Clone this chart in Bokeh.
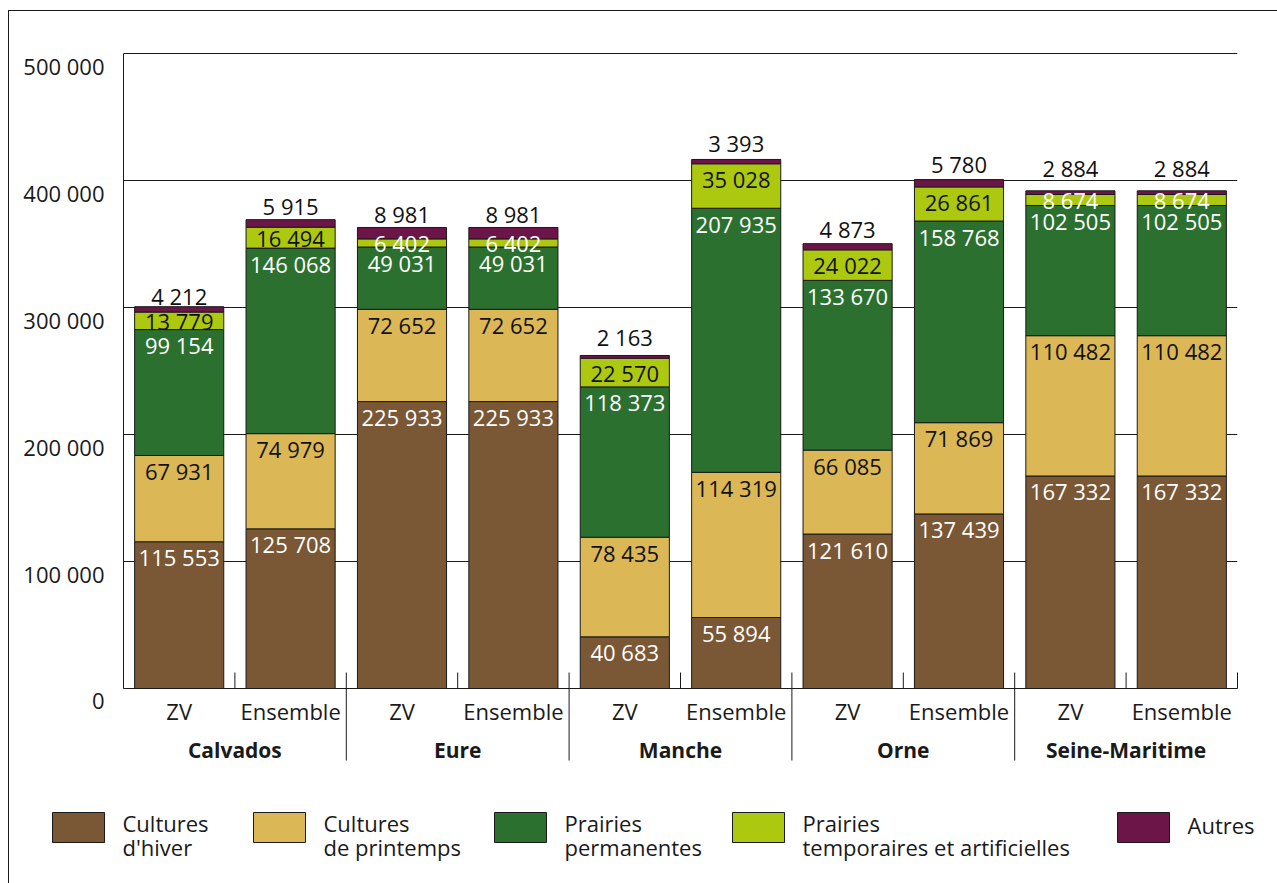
from bokeh.plotting import figure
from bokeh.models import ColumnDataSource, FactorRange, Range1d, FixedTicker
from bokeh.layouts import column
from bokeh.embed import file_html
from bokeh.resources import INLINE
from bokeh.core.properties import value

# ---- data -------------------------------------------------------------
departements = ["Calvados", "Eure", "Manche", "Orne", "Seine-Maritime"]
zones = ["ZV", "Ensemble"]

series_keys = ["hiver", "printemps", "permanentes", "temporaires", "autres"]
legend_line1 = ["Cultures", "Cultures", "Prairies", "Prairies", "Autres"]
legend_line2 = ["d'hiver", "de printemps", "permanentes", "temporaires et artificielles", ""]

cultures_hiver = [115553, 125708, 225933, 225933, 40683, 55894, 121610, 137439, 167332, 167332]
cultures_printemps = [67931, 74979, 72652, 72652, 78435, 114319, 66085, 71869, 110482, 110482]
prairies_permanentes = [99154, 146068, 49031, 49031, 118373, 207935, 133670, 158768, 102505, 102505]
prairies_temporaires = [13779, 16494, 6402, 6402, 22570, 35028, 24022, 26861, 8674, 8674]
autres = [4212, 5915, 8981, 8981, 2163, 3393, 4873, 5780, 2884, 2884]

y_ticks = [0, 100000, 200000, 300000, 400000, 500000]
y_tick_labels = ["0", "100 000", "200 000", "300 000", "400 000", "500 000"]

# ---- style ------------------------------------------------------------
colors = ["#7a5735", "#dbb855", "#2b702f", "#adc90f", "#6b1548"]
inner_text_colors = ["white", "#111111", "white", "#111111", "#111111"]
autres_label_lift_px = [11, 14, 13, 13, 18, 16.5, 15, 16, 23, 23]
FONT = "Open Sans"
FS = "22px"
INK = "#1a1a1a"

FRAME_W, FRAME_H = 1114, 638
PX = 635 / 500000          # pixels per unit on the value axis
UPP = 1 / PX               # units per pixel

factors = [(d, z) for d in departements for z in zones]
series = [cultures_hiver, cultures_printemps, prairies_permanentes, prairies_temporaires, autres]

source = ColumnDataSource(dict(x=factors, **{k: s for k, s in zip(series_keys, series)}))

p = figure(
    frame_width=FRAME_W, frame_height=FRAME_H,
    min_border_left=114, min_border_right=40, min_border_top=39, min_border_bottom=102,
    x_range=FactorRange(*factors, group_padding=0, factor_padding=0, subgroup_padding=0, range_padding=0),
    y_range=Range1d(0, 500000 + 3 * UPP),
    y_axis_location=None,
    output_backend="svg", toolbar_location=None,
)
p.outline_line_color = None
p.xgrid.visible = False
p.ygrid.ticker = FixedTicker(ticks=y_ticks)
p.ygrid.grid_line_color = INK
p.ygrid.grid_line_width = 1

# category axis
xa = p.xaxis[0]
xa.axis_line_color = INK
xa.axis_line_width = 1
xa.major_tick_line_color = None
xa.major_tick_in = 0
xa.major_tick_out = 0
xa.major_label_standoff = 7
xa.major_label_text_font = FONT
xa.major_label_text_font_size = FS
xa.major_label_text_color = INK
xa.group_text_font = FONT
xa.group_text_font_size = "21px"
xa.group_text_font_style = "bold"
xa.group_text_color = INK
xa.separator_line_color = None

# stacked bars
p.vbar_stack(series_keys, x="x", width=0.8, color=colors,
             line_color=INK, line_width=1, source=source)

# value labels
lx, ly, lt, lc = [], [], [], []
for i, f in enumerate(factors):
    base = 0
    for j, s in enumerate(series):
        v = s[i]
        top = base + v
        if j < 4:
            h_px = v * PX
            y = top - min(15.5, h_px / 2) * UPP
            col = inner_text_colors[j]
            if j == 3 and h_px < 12:
                col = "white"
        else:
            y = top + autres_label_lift_px[i] * UPP
            col = inner_text_colors[j]
        lx.append(f)
        ly.append(y)
        lt.append(f"{v:,}".replace(",", " "))
        lc.append(col)
        base = top

p.text(x=lx, y=ly, text=lt, text_color=lc, text_align="center", text_baseline="middle",
       text_font=value(FONT), text_font_size=FS)

# value-axis tick labels, hanging just under their gridline
p.text(x=[0] * len(y_ticks), y=y_ticks, text=y_tick_labels, x_offset=-19, y_offset=12,
       text_color=INK, text_align="right", text_baseline="middle",
       text_font=value(FONT), text_font_size=FS, level="overlay")

# left rule, ticks between bars and separators between departments
n = len(factors)
seg_x, seg_y0, seg_y1 = [0], [0], [500000]
for k in range(1, n + 1):
    seg_x.append(k)
    if k % 2 == 0 and k < n:
        seg_y0.append(-72 * UPP)
    else:
        seg_y0.append(0)
    seg_y1.append(16 * UPP)
p.segment(x0=seg_x, y0=seg_y0, x1=seg_x, y1=seg_y1, line_color=INK, line_width=1, level="overlay")

# ---- legend -----------------------------------------------------------
# same frame as the chart above so the column keeps both aligned
leg = figure(frame_width=FRAME_W, height=93, x_range=Range1d(123, 1237), y_range=Range1d(883, 790),
             min_border_left=114, min_border_right=40, min_border_top=0, min_border_bottom=0,
             output_backend="svg", toolbar_location=None,
             x_axis_location=None, y_axis_location=None)
leg.outline_line_color = None
leg.grid.visible = False

box_left = [52, 253, 494, 732, 1117]
leg.quad(left=box_left, right=[b + 52 for b in box_left], top=[812] * 5, bottom=[842] * 5,
         fill_color=colors, line_color=INK, line_width=1, level="overlay")
leg.text(x=[b + 70 for b in box_left], y=[822.5] * 4 + [824], text=legend_line1,
         text_color=INK, text_baseline="middle", text_align="left",
         text_font=value(FONT), text_font_size=FS, level="overlay")
leg.text(x=[b + 70 for b in box_left[:4]], y=[846.5] * 4, text=legend_line2[:4],
         text_color=INK, text_baseline="middle", text_align="left",
         text_font=value(FONT), text_font_size=FS, level="overlay")

layout = column(p, leg, spacing=0, margin=(10, 0, 0, 8),
                styles={"border-top": f"1px solid {INK}", "border-left": f"1px solid {INK}"})

open("out.html", "w").write(file_html(layout, INLINE))
